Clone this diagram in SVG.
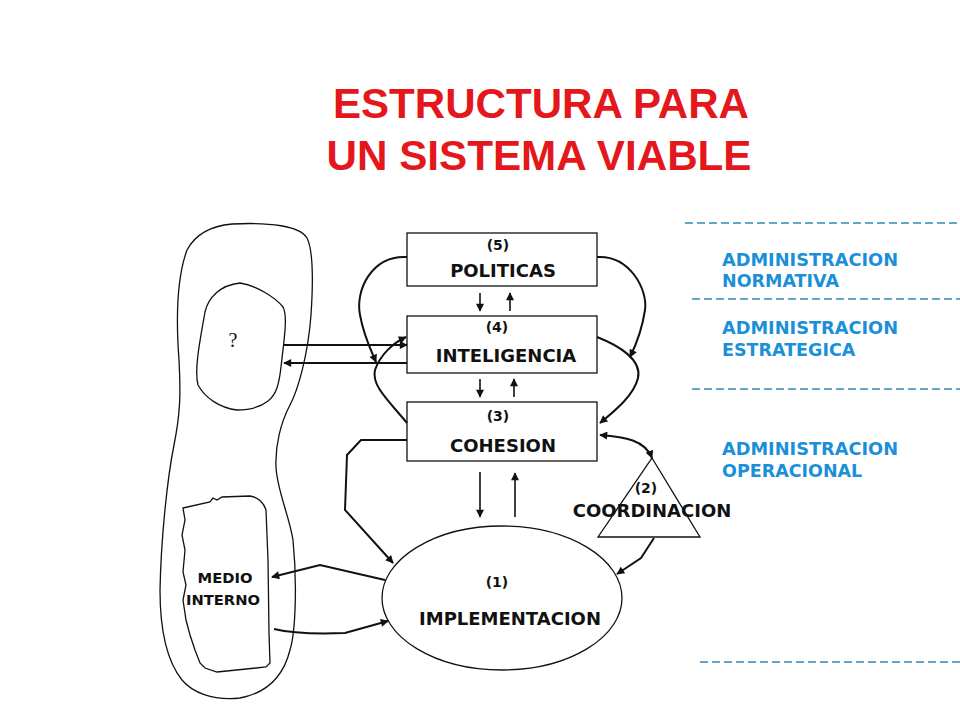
<svg xmlns="http://www.w3.org/2000/svg" width="960" height="720" viewBox="0 0 960 720">
<style>
.title{font-family:"Liberation Sans",Arial,sans-serif;font-weight:bold;font-size:43px;fill:#e3171c;text-anchor:middle}
.lbl{font-family:"DejaVu Sans",Verdana,sans-serif;font-weight:bold;font-size:18px;fill:#111;text-anchor:middle}
.num{font-family:"DejaVu Sans",Verdana,sans-serif;font-weight:bold;font-size:14px;fill:#111;text-anchor:middle}
.adm{font-family:"DejaVu Sans",Verdana,sans-serif;font-weight:bold;font-size:17.5px;fill:#1b8fd8}
.box{fill:#fff;stroke:#111;stroke-width:1.3}
.blob{fill:none;stroke:#111;stroke-width:1.3}
.con{fill:none;stroke:#111;stroke-width:2;marker-end:url(#ah)}
.small{fill:none;stroke:#111;stroke-width:1.6;marker-end:url(#ah)}
.dash{fill:none;stroke:#2e8ab5;stroke-width:1.5;stroke-dasharray:8 4}
</style>
<defs>
<marker id="ah" viewBox="0 0 10 10" refX="9" refY="5" markerWidth="9" markerHeight="8" markerUnits="userSpaceOnUse" orient="auto-start-reverse">
<path d="M0,0 L10,5 L0,10 z" fill="#111"/>
</marker>
</defs>
<rect width="960" height="720" fill="#fff"/>

<g id="title">
<text class="title" x="541" y="118" textLength="416" lengthAdjust="spacingAndGlyphs">ESTRUCTURA PARA</text>
<text class="title" x="539" y="170" textLength="425" lengthAdjust="spacingAndGlyphs">UN SISTEMA VIABLE</text>
</g>

<g id="entorno">
<path class="blob" d="M232,224 C 270,222 300,226 307,238 C 314,252 313,285 311,315 C 308,355 298,390 290,405 C 281,422 275,445 276,467 C 277,490 289,515 293,540 C 297,580 296,630 290,650 C 285,670 272,692 240,698 C 212,701 192,692 182,680 C 166,660 160,625 160,590 C 161,540 167,480 174,445 C 180,415 181,395 179,360 C 176,320 176,280 187,250 C 195,235 210,226 232,224 Z"/>
<path class="blob" d="M240,283 C 255,285 275,297 283,307 C 288,316 284,340 281,367 C 279,385 276,395 268,401 C 258,409 245,410 237,410 C 220,408 205,398 198,385 C 194,370 200,340 205,312 C 208,298 220,285 240,283 Z"/>
<text x="233" y="347" font-family="Liberation Serif,serif" font-size="20" fill="#111" text-anchor="middle">?</text>
</g>

<g id="medio-interno">
<path class="blob" d="M183,508 L210,502 L213,498 L217,500 L222,497 L250,496 C 258,497 264,503 266,510 L268,560 L269,633 L270,663 L266,667 L217,672 L205,668 L200,663 L195,650 L190,635 L186,620 L183,600 L186,585 L183,572 L185,550 L182,535 L185,520 Z"/>
<text class="num" x="225" y="583" font-size="15" textLength="55" lengthAdjust="spacingAndGlyphs">MEDIO</text>
<text class="num" x="223" y="605" font-size="15" textLength="74" lengthAdjust="spacingAndGlyphs">INTERNO</text>
</g>

<g id="n5">
<rect class="box" x="407" y="233" width="190" height="53"/>
<text class="num" x="498" y="250">(5)</text>
<text class="lbl" x="503" y="277">POLITICAS</text>
</g>
<g id="n4">
<rect class="box" x="407" y="316" width="190" height="57"/>
<text class="num" x="497" y="332">(4)</text>
<text class="lbl" x="506" y="362">INTELIGENCIA</text>
</g>
<g id="n3">
<rect class="box" x="407" y="402" width="190" height="59"/>
<text class="num" x="498" y="421">(3)</text>
<text class="lbl" x="503" y="452">COHESION</text>
</g>
<g id="n1">
<ellipse cx="502" cy="598" rx="120" ry="72" fill="#fff" stroke="#111" stroke-width="1.3"/>
<text class="num" x="497" y="587">(1)</text>
<text class="lbl" x="510" y="625">IMPLEMENTACION</text>
</g>
<g id="n2">
<path d="M652,458 L700,537 L598,537 Z" fill="none" stroke="#111" stroke-width="1.3"/>
<text class="num" x="646" y="493">(2)</text>
<text class="lbl" x="652" y="517">COORDINACION</text>
</g>

<g id="niveles">
<line class="dash" x1="685" y1="223" x2="960" y2="223"/>
<line class="dash" x1="692" y1="299" x2="960" y2="299"/>
<line class="dash" x1="692" y1="389" x2="960" y2="389"/>
<line class="dash" x1="700" y1="662" x2="960" y2="662"/>
<text class="adm" x="722" y="266" textLength="176" lengthAdjust="spacingAndGlyphs">ADMINISTRACION</text>
<text class="adm" x="722" y="287">NORMATIVA</text>
<text class="adm" x="722" y="334" textLength="176" lengthAdjust="spacingAndGlyphs">ADMINISTRACION</text>
<text class="adm" x="722" y="356">ESTRATEGICA</text>
<text class="adm" x="722" y="455" textLength="176" lengthAdjust="spacingAndGlyphs">ADMINISTRACION</text>
<text class="adm" x="722" y="477">OPERACIONAL</text>
</g>

<g id="connectors">
<path class="small" d="M480,293 L480,311"/>
<path class="small" d="M510,311 L510,293"/>
<path class="small" d="M480,379 L480,397"/>
<path class="small" d="M514,397 L514,379"/>
<path class="small" d="M480,472 L480,517"/>
<path class="small" d="M515,517 L515,473"/>
<path class="con" d="M407,257 C 372,255 355,290 360,315 C 364,337 371,350 376,362"/>
<path class="con" d="M407,423 C 390,402 371,386 375,370 C 380,355 393,343 406,337"/>
<path class="con" d="M597,257 C 630,255 648,290 645,310 C 642,330 636,345 630,357"/>
<path class="con" d="M597,337 C 620,346 642,360 638,378 C 634,395 616,410 600,423"/>
<path class="con" d="M600,435 C 625,437 645,440 652,458" marker-start="url(#ah)"/>
<path class="con" d="M654,538 L641,558 L617,574"/>
<path class="con" d="M407,440 L361,440 L347,455 L345,510 L393,563"/>
<path class="con" d="M284,345 L407,345"/>
<path class="con" d="M407,363 L284,363"/>
<path class="con" d="M385,580 L320,565 L272,577"/>
<path class="con" d="M274,629 C 295,634 320,634 345,633 L388,621"/>
</g>
</svg>
